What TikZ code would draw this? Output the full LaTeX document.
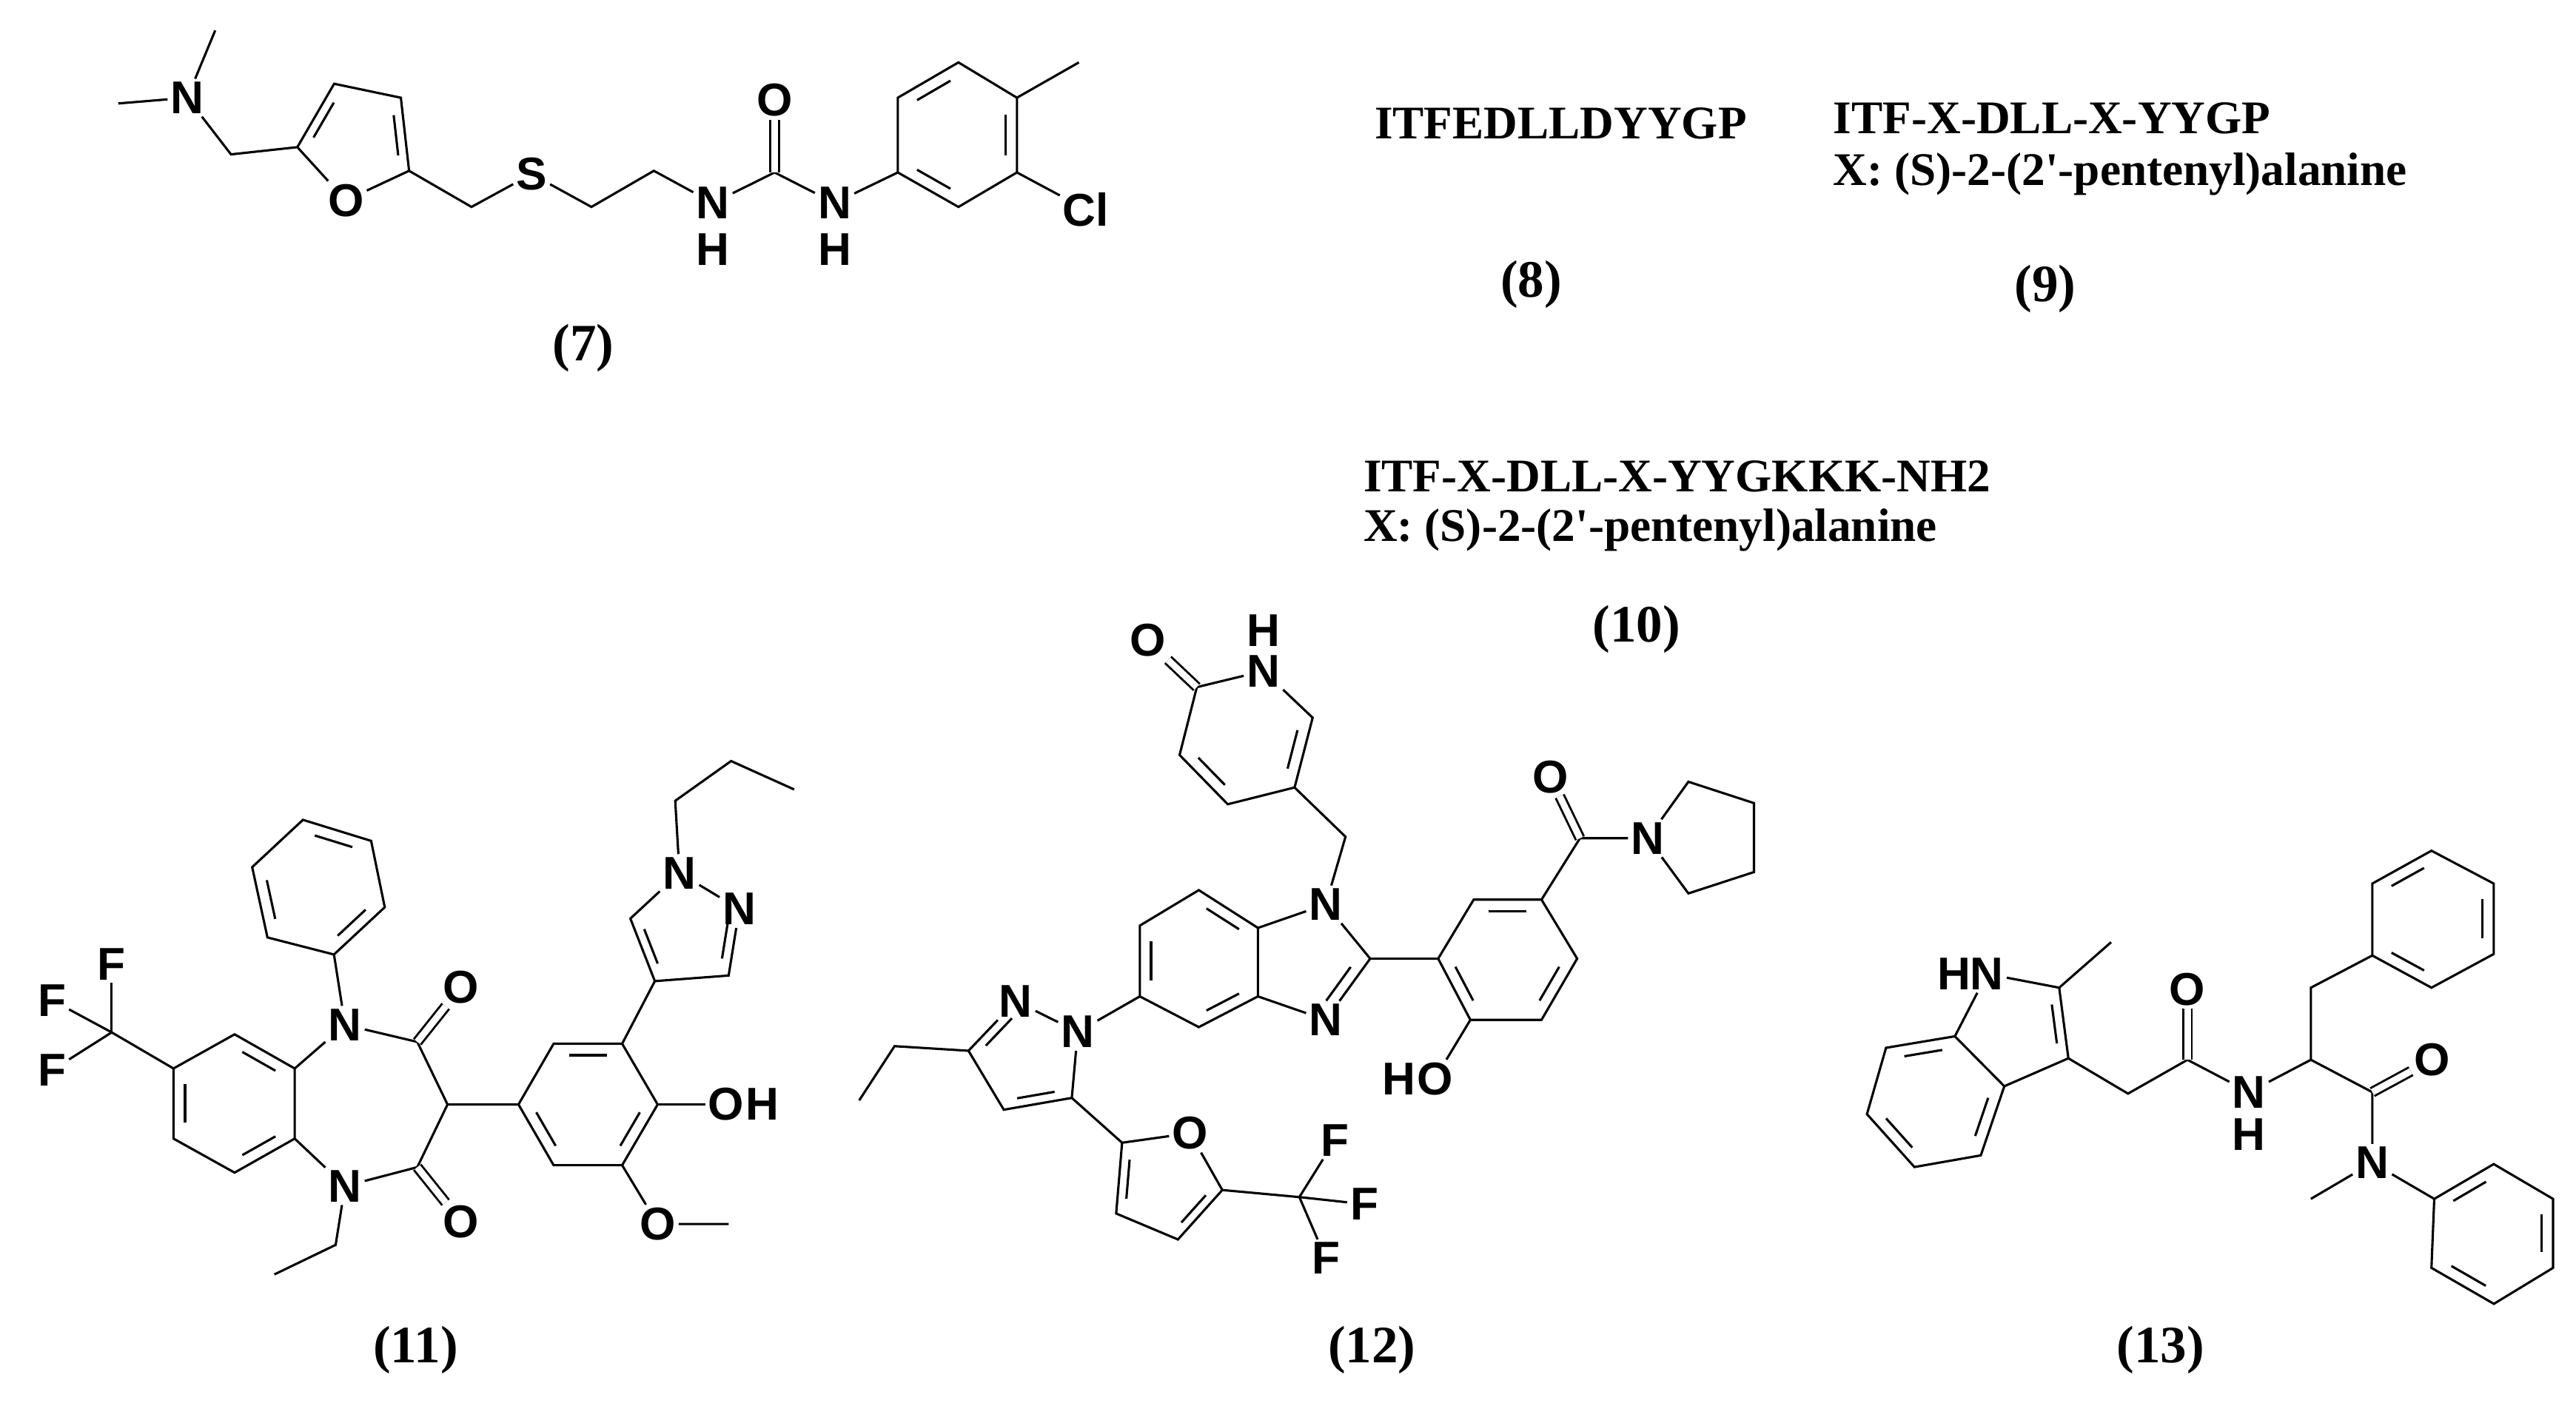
\documentclass[tikz,border=0pt]{standalone}
\usepackage{fontspec}
\setmainfont{Liberation Serif}
\setsansfont{Liberation Sans}
\usetikzlibrary{calc}
\newcommand\dbl[3]{\draw ($(#1)!.16!(#2)!.19!(#3)$) -- ($(#2)!.16!(#1)!.19!(#3)$);}
\begin{document}
\begin{tikzpicture}[x=1pt,y=-1pt,line width=1.4pt,
  atom/.style={font=\sffamily\bfseries\fontsize{28}{28}\selectfont,inner sep=1.2pt},
  lbl/.style={font=\bfseries\fontsize{32}{32}\selectfont},
  pep/.style={font=\bfseries\fontsize{28.5}{28.5}\selectfont,anchor=west},
  dbond/.style={double,double distance=4pt,line width=1.3pt}]
\useasboundingbox (0,0) rectangle (1568,854);
% ---------- (7)
\coordinate (a1) at (131,18.5); \node[atom] (aN) at (114,59.5) {N};
\coordinate (a2) at (72,63); \coordinate (a3) at (140.6,94);
\coordinate (f2) at (181,89.6); \coordinate (f3) at (203.4,51); \coordinate (f4) at (244,59.5);
\coordinate (f5) at (249,104); \node[atom] (fO) at (210.5,122) {O};
\coordinate (fc) at (217.6,85);
\coordinate (s1) at (287,126); \node[atom] (aS) at (323.6,106) {S};
\coordinate (e1) at (360,126); \coordinate (e2) at (398,104);
\node[atom] (n1) at (434,123.6) {N}; \node[atom] (h1) at (434,152) {H};
\coordinate (cu) at (471.5,105); \node[atom] (ou) at (471.5,61) {O};
\node[atom] (n2) at (508,123.6) {N}; \node[atom] (h2) at (508,152) {H};
\coordinate (r1) at (546.5,105); \coordinate (r2) at (546.5,59.5); \coordinate (r3) at (583.4,38);
\coordinate (r4) at (619,59.5); \coordinate (r5) at (619,105); \coordinate (r6) at (583.4,126);
\coordinate (rc) at (583,82); \coordinate (rme) at (656.7,38);
\node[atom] (cl) at (661,127.5) {Cl};
\draw (a1) -- (aN) -- (a2); \draw (aN) -- (a3) -- (f2) -- (f3) -- (f4) -- (f5) -- (fO) -- (f2);
\dbl{f2}{f3}{fc} \dbl{f4}{f5}{fc}
\draw (f5) -- (s1) -- (aS) -- (e1) -- (e2) -- (n1) -- (cu) -- (n2) -- (r1);
\draw[dbond] (cu) -- (ou);
\draw (r1) -- (r2) -- (r3) -- (r4) -- (r5) -- (r6) -- (r1);
\dbl{r2}{r3}{rc} \dbl{r4}{r5}{rc} \dbl{r6}{r1}{rc}
\draw (r4) -- (rme); \draw (r5) -- (cl);
\node[lbl] (l7) at (355,212) {(7)};
% ---------- peptides
\node[font=\bfseries\fontsize{28.5}{28.5}\selectfont] (p8) at (950,75) {ITFEDLLDYYGP};
\node[lbl] (l8) at (932,173) {(8)};
\node[pep] (p9a) at (1112,72) {ITF-X-DLL-X-YYGP};
\node[pep] (p9b) at (1112,106) {X: (S)-2-(2\textquotesingle-pentenyl)alanine};
\node[lbl] (l9) at (1245,176) {(9)};
\node[pep] (p10a) at (826,290) {ITF-X-DLL-X-YYGKKK-NH2};
\node[pep] (p10b) at (826,323) {X: (S)-2-(2\textquotesingle-pentenyl)alanine};
\node[lbl] (l10) at (996,383) {(10)};
% ---------- (11)
\coordinate (p1) at (203.3,581.2); \coordinate (p2) at (162.8,570.8); \coordinate (p3) at (153.5,528);
\coordinate (p4) at (184.4,499.2); \coordinate (p5) at (225.9,512); \coordinate (p6) at (234.2,552.4);
\coordinate (pc) at (194,540.6);
\node[atom] (bN1) at (210,624) {N}; \coordinate (bc2) at (254,634.4); \node[atom] (bo1) at (280.7,600.9) {O};
\coordinate (bc3) at (272.4,672.5); \coordinate (bc4) at (254,710.7); \node[atom] (bo2) at (280.7,744) {O};
\node[atom] (bN5) at (210,722.2) {N};
\coordinate (b9a) at (179.4,650.6); \coordinate (b9) at (142.8,629.8); \coordinate (b8) at (105.6,650.6);
\coordinate (b7) at (105.6,693.3); \coordinate (b6) at (142.8,714); \coordinate (b5a) at (179.4,693.3);
\coordinate (bcc) at (142.6,672);
\coordinate (cf) at (68,628.6); \node[atom] (F1) at (68,587) {F}; \node[atom] (F2) at (31.6,609) {F}; \node[atom] (F3) at (31.6,651.7) {F};
\coordinate (et1) at (204.3,758); \coordinate (et2) at (167,776);
\coordinate (A1) at (315.6,672.5); \coordinate (A2) at (337,635.5); \coordinate (A3) at (378.7,635.5);
\coordinate (A4) at (400.3,672.5); \coordinate (A5) at (378.7,709.5); \coordinate (A6) at (337,709.5);
\coordinate (Ac) at (358,672.5);
\node[atom] (Aoh) at (442,672.5) {O}; \node[atom] (Ah) at (464,672.5) {H};
\node[atom] (Aom) at (400.3,745.3) {O}; \coordinate (Ame) at (443.5,745.3);
\node[atom] (z1) at (413.6,531.6) {N}; \node[atom] (z2) at (450,553.5) {N};
\coordinate (z3) at (443.5,594); \coordinate (z4) at (398.6,597.4); \coordinate (z5) at (383.7,559.3);
\coordinate (zc) at (417.9,567.2);
\coordinate (pr1) at (411,487.6); \coordinate (pr2) at (445,463.4); \coordinate (pr3) at (483.4,480.7);
\draw (p1) -- (p2) -- (p3) -- (p4) -- (p5) -- (p6) -- (p1);
\dbl{p2}{p3}{pc} \dbl{p4}{p5}{pc} \dbl{p6}{p1}{pc}
\draw (p1) -- (bN1);
\draw (b9a) -- (bN1) -- (bc2) -- (bc3) -- (bc4) -- (bN5) -- (b5a);
\draw[dbond] (bc2) -- (bo1); \draw[dbond] (bc4) -- (bo2);
\draw (b9a) -- (b9) -- (b8) -- (b7) -- (b6) -- (b5a) -- (b9a);
\dbl{b9a}{b9}{bcc} \dbl{b8}{b7}{bcc} \dbl{b6}{b5a}{bcc}
\draw (b8) -- (cf); \draw (cf) -- (F1); \draw (cf) -- (F2); \draw (cf) -- (F3);
\draw (bN5) -- (et1) -- (et2);
\draw (bc3) -- (A1) -- (A2) -- (A3) -- (A4) -- (A5) -- (A6) -- (A1);
\dbl{A2}{A3}{Ac} \dbl{A4}{A5}{Ac} \dbl{A6}{A1}{Ac}
\draw (A4) -- (Aoh); \draw (A5) -- (Aom) -- (Ame);
\draw (A3) -- (z4);
\draw (z1) -- (z2) -- (z3) -- (z4) -- (z5) -- (z1);
\dbl{z2}{z3}{zc} \dbl{z4}{z5}{zc}
\draw (z1) -- (pr1) -- (pr2) -- (pr3);
\node[lbl] (l11) at (253,822) {(11)};
% ---------- (12)
\coordinate (y2) at (728.5,418.4); \node[atom] (yN) at (769,408.6) {N}; \node[atom] (yH) at (769,384) {H};
\node[atom] (yO) at (698.5,390) {O};
\coordinate (y6) at (799,437); \coordinate (y5) at (788,479.5); \coordinate (y4) at (747.3,489.7);
\coordinate (y3) at (718,459.7); \coordinate (yc) at (758,448);
\coordinate (ych) at (819,509.5);
\node[atom] (m1) at (807,550.7) {N}; \coordinate (m2) at (834,583.7); \node[atom] (m3) at (807,621) {N};
\coordinate (m3a) at (765.7,606.7); \coordinate (m7a) at (765.7,565); \coordinate (mc) at (790,585);
\coordinate (m7) at (729.7,542); \coordinate (m6) at (693.8,563.6); \coordinate (m5) at (693.8,606.7);
\coordinate (m4) at (729.7,625.4); \coordinate (mbc) at (729.7,585);
\node[atom] (q1) at (656,628.3) {N}; \node[atom] (q2) at (618.3,609.6) {N};
\coordinate (q3) at (589.5,639.8); \coordinate (q4) at (611,675.7); \coordinate (q5) at (652.4,668.5);
\coordinate (qc) at (625.5,644);
\coordinate (qe1) at (544.5,637); \coordinate (qe2) at (523,670);
\coordinate (u2) at (683,695.8); \node[atom] (uO) at (724.4,690) {O}; \coordinate (u5) at (744,724.6);
\coordinate (u4) at (717,754.7); \coordinate (u3) at (679.4,738.9); \coordinate (uc) at (709.6,720.8);
\coordinate (ucf) at (790.9,728.9);
\node[atom] (G1) at (812.5,694.4) {F}; \node[atom] (G2) at (830.4,733.2) {F}; \node[atom] (G3) at (807,766.2) {F};
\coordinate (w1) at (875.4,583.7); \coordinate (w2) at (895,621); \coordinate (w3) at (938.3,621);
\coordinate (w4) at (960,583.7); \coordinate (w5) at (938.3,547.8); \coordinate (w6) at (897,547.8);
\coordinate (wc) at (917.3,584.5);
\node[atom] (wO) at (873.3,657) {O}; \node[atom] (wH) at (851.7,657) {H};
\coordinate (wa) at (961.7,510.4); \node[atom] (waO) at (943.7,473) {O}; \node[atom] (waN) at (1003,510.4) {N};
\coordinate (k2) at (1027.7,476); \coordinate (k3) at (1067.6,489); \coordinate (k4) at (1067.6,531); \coordinate (k5) at (1027.7,544);
\draw (y2) -- (yN) -- (y6) -- (y5) -- (y4) -- (y3) -- (y2);
\draw[dbond] (y2) -- (yO);
\dbl{y3}{y4}{yc} \dbl{y5}{y6}{yc}
\draw (y5) -- (ych) -- (m1);
\draw (m1) -- (m2) -- (m3) -- (m3a) -- (m7a) -- (m1);
\dbl{m2}{m3}{mc}
\draw (m7a) -- (m7) -- (m6) -- (m5) -- (m4) -- (m3a);
\dbl{m7}{m7a}{mbc} \dbl{m6}{m5}{mbc} \dbl{m4}{m3a}{mbc}
\draw (m5) -- (q1);
\draw (q1) -- (q2) -- (q3) -- (q4) -- (q5) -- (q1);
\dbl{q2}{q3}{qc} \dbl{q4}{q5}{qc}
\draw (q3) -- (qe1) -- (qe2);
\draw (q5) -- (u2);
\draw (u2) -- (uO) -- (u5) -- (u4) -- (u3) -- (u2);
\dbl{u2}{u3}{uc} \dbl{u4}{u5}{uc}
\draw (u5) -- (ucf); \draw (ucf) -- (G1); \draw (ucf) -- (G2); \draw (ucf) -- (G3);
\draw (m2) -- (w1);
\draw (w1) -- (w2) -- (w3) -- (w4) -- (w5) -- (w6) -- (w1);
\dbl{w1}{w2}{wc} \dbl{w3}{w4}{wc} \dbl{w5}{w6}{wc}
\draw (w2) -- (wO);
\draw (w5) -- (wa) -- (waN); \draw[dbond] (wa) -- (waO);
\draw (waN) -- (k2) -- (k3) -- (k4) -- (k5) -- (waN);
\node[lbl] (l12) at (835,822) {(12)};
% ---------- (13)
\node[atom] (iN) at (1209.5,593) {N}; \node[atom] (iH) at (1189.5,593) {H};
\coordinate (i2) at (1253.4,601.4); \coordinate (i3) at (1259,644.4); \coordinate (i3a) at (1220,661.4);
\coordinate (i7a) at (1189.9,631); \coordinate (ipc) at (1226,626);
\coordinate (i7) at (1148,638); \coordinate (i6) at (1136.4,678.4); \coordinate (i5) at (1165.3,710.6);
\coordinate (i4) at (1205.7,703.5); \coordinate (ibc) at (1178,670);
\coordinate (ime) at (1285,573.7);
\coordinate (j1) at (1295.3,665.9); \coordinate (j2) at (1331.5,645.3); \node[atom] (jO) at (1331.5,602.3) {O};
\node[atom] (jN) at (1369,665) {N}; \node[atom] (jH) at (1369,691) {H};
\coordinate (j3) at (1406.6,645.3); \coordinate (j4) at (1406.6,601.4);
\coordinate (t1) at (1444,581.8); \coordinate (t2) at (1444,538); \coordinate (t3) at (1480,518);
\coordinate (t4) at (1517.9,538); \coordinate (t5) at (1517.9,580.9); \coordinate (t6) at (1480,601.4);
\coordinate (tc) at (1481,559.5);
\coordinate (j5) at (1444,665); \node[atom] (j5O) at (1480.3,645.3) {O}; \node[atom] (j6) at (1444,708) {N};
\coordinate (jme) at (1406.6,730);
\coordinate (v1) at (1481.7,730); \coordinate (v2) at (1517.9,708.8); \coordinate (v3) at (1554,730);
\coordinate (v4) at (1554,772); \coordinate (v5) at (1518,793.9); \coordinate (v6) at (1480,772);
\coordinate (vc) at (1518,751);
\draw (iN) -- (i2) -- (i3) -- (i3a) -- (i7a) -- (iN);
\dbl{i2}{i3}{ipc}
\draw (i7a) -- (i7) -- (i6) -- (i5) -- (i4) -- (i3a);
\dbl{i7a}{i7}{ibc} \dbl{i6}{i5}{ibc} \dbl{i4}{i3a}{ibc}
\draw (i2) -- (ime);
\draw (i3) -- (j1) -- (j2) -- (jN) -- (j3) -- (j4) -- (t1);
\draw[dbond] (j2) -- (jO);
\draw (t1) -- (t2) -- (t3) -- (t4) -- (t5) -- (t6) -- (t1);
\dbl{t2}{t3}{tc} \dbl{t4}{t5}{tc} \dbl{t6}{t1}{tc}
\draw (j3) -- (j5) -- (j6); \draw[dbond] (j5) -- (j5O);
\draw (j6) -- (jme); \draw (j6) -- (v1);
\draw (v1) -- (v2) -- (v3) -- (v4) -- (v5) -- (v6) -- (v1);
\dbl{v1}{v2}{vc} \dbl{v3}{v4}{vc} \dbl{v5}{v6}{vc}
\node[lbl] (l13) at (1315,822) {(13)};
\end{tikzpicture}
\end{document}
